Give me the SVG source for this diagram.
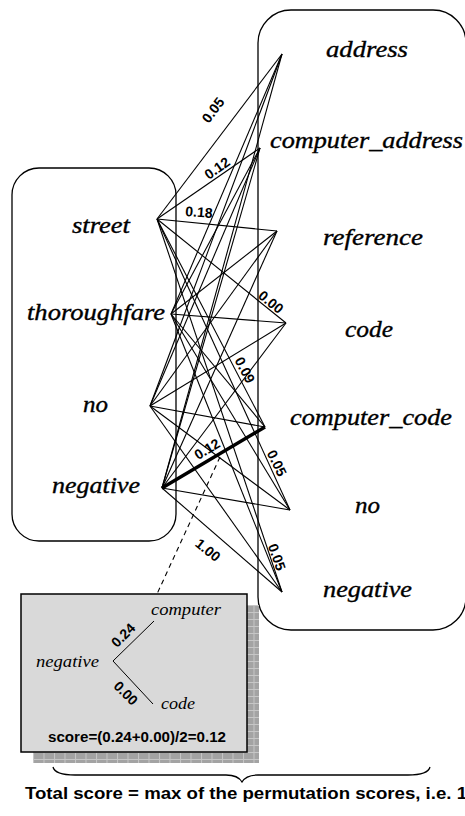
<svg xmlns="http://www.w3.org/2000/svg" width="465" height="816" viewBox="0 0 465 816">
  <style>
    .box { fill: none; stroke: #000; stroke-width: 1.3; }
    .term { font-style: italic; font-size: 23px; fill: #000; stroke: #000; stroke-width: 0.35; }
    .small { font-style: italic; font-size: 16px; fill: #000; }
    .w { font-family: "Liberation Sans", Arial, sans-serif; font-weight: bold; font-size: 14px; fill: #000; text-anchor: middle; }
    .note { font-family: "Liberation Sans", Arial, sans-serif; font-weight: bold; fill: #000; }
    #connectors line { stroke: #000; stroke-width: 1.1; }
    #connectors line.best { stroke-width: 3.4; }
  </style>
  <defs>
    <pattern id="grid" patternUnits="userSpaceOnUse" x="33" y="605" width="10.5" height="7">
      <rect width="10.5" height="7" fill="#a3a3a3"/>
      <path d="M0,0.5 H10.5 M0.5,0 V7" stroke="#c6c6c6" stroke-width="1" fill="none"/>
    </pattern>
  </defs>

  <!-- term groups -->
  <g id="source-terms">
    <rect class="box" x="12" y="168" width="164" height="373" rx="27" ry="27"/>
  </g>
  <g id="target-terms">
    <rect class="box" x="258" y="10" width="208" height="620" rx="33" ry="33"/>
  </g>

  <!-- all pairwise links between the two term sets -->
  <g id="connectors">
    <!-- street -->
    <line x1="157" y1="219" x2="282" y2="54"/>
    <line x1="157" y1="219" x2="260" y2="148"/>
    <line x1="157" y1="219" x2="277" y2="231"/>
    <line x1="157" y1="219" x2="286" y2="323"/>
    <line x1="157" y1="219" x2="265" y2="427"/>
    <line x1="157" y1="219" x2="290" y2="510"/>
    <line x1="157" y1="219" x2="282" y2="592"/>
    <!-- thoroughfare -->
    <line x1="171" y1="314" x2="282" y2="54"/>
    <line x1="171" y1="314" x2="260" y2="148"/>
    <line x1="171" y1="314" x2="277" y2="231"/>
    <line x1="171" y1="314" x2="286" y2="323"/>
    <line x1="171" y1="314" x2="265" y2="427"/>
    <line x1="171" y1="314" x2="290" y2="510"/>
    <line x1="171" y1="314" x2="282" y2="592"/>
    <!-- no -->
    <line x1="150" y1="406" x2="282" y2="54"/>
    <line x1="150" y1="406" x2="260" y2="148"/>
    <line x1="150" y1="406" x2="277" y2="231"/>
    <line x1="150" y1="406" x2="286" y2="323"/>
    <line x1="150" y1="406" x2="265" y2="427"/>
    <line x1="150" y1="406" x2="290" y2="510"/>
    <line x1="150" y1="406" x2="282" y2="592"/>
    <!-- negative -->
    <line x1="162" y1="488" x2="282" y2="54"/>
    <line x1="162" y1="488" x2="260" y2="148"/>
    <line x1="162" y1="488" x2="277" y2="231"/>
    <line x1="162" y1="488" x2="286" y2="323"/>
    <line class="best" x1="162" y1="488" x2="265" y2="427"/>
    <line x1="162" y1="488" x2="290" y2="510"/>
    <line x1="162" y1="488" x2="282" y2="592"/>
    <!-- callout to the detail box -->
    <line x1="220" y1="457" x2="157" y2="594" stroke-dasharray="5,4"/>
  </g>

  <!-- link weights -->
  <g id="weights">
    <text class="w" transform="translate(213,110) rotate(-53)" y="5">0.05</text>
    <text class="w" transform="translate(217,168) rotate(-35)" y="5">0.12</text>
    <text class="w" transform="translate(199,212) rotate(4)" y="5">0.18</text>
    <text class="w" transform="translate(271,302) rotate(39)" y="5">0.00</text>
    <text class="w" transform="translate(245,370) rotate(62)" y="5">0.09</text>
    <text class="w" transform="translate(277,463) rotate(64)" y="5">0.05</text>
    <text class="w" transform="translate(277,557) rotate(71)" y="5">0.05</text>
    <text class="w" transform="translate(207,449) rotate(-31)" y="5">0.12</text>
    <text class="w" transform="translate(208,550) rotate(39)" y="5">1.00</text>
  </g>

  <!-- source term labels -->
  <g font-family="'Liberation Serif', 'Times New Roman', serif">
    <g id="street"><text class="term" x="72" y="233" textLength="58" lengthAdjust="spacingAndGlyphs">street</text></g>
    <g id="thoroughfare"><text class="term" x="27" y="320" textLength="138" lengthAdjust="spacingAndGlyphs">thoroughfare</text></g>
    <g id="no-src"><text class="term" x="83" y="412" textLength="25" lengthAdjust="spacingAndGlyphs">no</text></g>
    <g id="negative-src"><text class="term" x="52" y="493" textLength="88" lengthAdjust="spacingAndGlyphs">negative</text></g>

    <!-- target term labels -->
    <g id="address"><text class="term" x="326" y="57" textLength="82" lengthAdjust="spacingAndGlyphs">address</text></g>
    <g id="computer_address"><text class="term" x="270" y="148" textLength="193" lengthAdjust="spacingAndGlyphs">computer_address</text></g>
    <g id="reference"><text class="term" x="323" y="245" textLength="100" lengthAdjust="spacingAndGlyphs">reference</text></g>
    <g id="code"><text class="term" x="345" y="337" textLength="48" lengthAdjust="spacingAndGlyphs">code</text></g>
    <g id="computer_code"><text class="term" x="290" y="425" textLength="162" lengthAdjust="spacingAndGlyphs">computer_code</text></g>
    <g id="no-tgt"><text class="term" x="355" y="513" textLength="25" lengthAdjust="spacingAndGlyphs">no</text></g>
    <g id="negative-tgt"><text class="term" x="323" y="597" textLength="89" lengthAdjust="spacingAndGlyphs">negative</text></g>
  </g>

  <!-- detail box: score of one permutation -->
  <g id="detail">
    <rect x="33" y="605" width="226" height="158" fill="url(#grid)"/>
    <rect x="21" y="594" width="226" height="158" fill="#d9d9d9" stroke="#000" stroke-width="1.5"/>
    <path d="M154,621 L113,661 L153,704" fill="none" stroke="#000" stroke-width="1"/>
    <g font-family="'Liberation Serif', 'Times New Roman', serif">
      <text class="small" x="151" y="615" textLength="70" lengthAdjust="spacingAndGlyphs">computer</text>
      <text class="small" x="36" y="667" textLength="63" lengthAdjust="spacingAndGlyphs">negative</text>
      <text class="small" x="161" y="709" textLength="34" lengthAdjust="spacingAndGlyphs">code</text>
    </g>
    <text class="w" transform="translate(123,635) rotate(-45)" y="5">0.24</text>
    <text class="w" transform="translate(126,693) rotate(45)" y="5">0.00</text>
    <text class="note" x="48" y="742" font-size="14.5" textLength="178" lengthAdjust="spacingAndGlyphs">score=(0.24+0.00)/2=0.12</text>
  </g>

  <!-- brace and total -->
  <g id="total">
    <path d="M53,767 Q55,775 75,775 L226,775 Q238,775 242,782 Q246,775 258,775 L408,775 Q428,775 430,767" fill="none" stroke="#000" stroke-width="1.3"/>
    <text class="note" x="25" y="799" font-size="16" textLength="442" lengthAdjust="spacingAndGlyphs">Total score = max of the permutation scores, i.e. 1</text>
  </g>
</svg>
